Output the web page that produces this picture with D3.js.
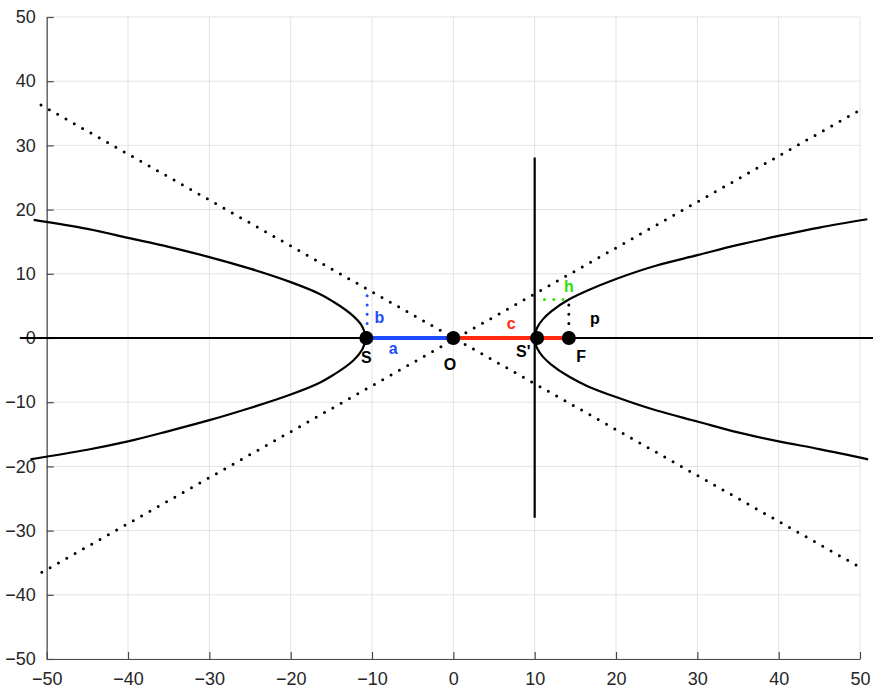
<!DOCTYPE html>
<html>
<head>
<meta charset="utf-8">
<script src="https://cdn.jsdelivr.net/npm/d3@7"></script>
<style>
  body { margin: 0; background: #fff; }
  svg text { font-family: "Liberation Sans", Arial, Helvetica, sans-serif; }
</style>
</head>
<body>
<div id="chart"></div>
<script>
// Tick values on both axes
const xTicks = [-50, -40, -30, -20, -10, 0, 10, 20, 30, 40, 50];
const yTicks = [-50, -40, -30, -20, -10, 0, 10, 20, 30, 40, 50];

// Right branch of the curve (bottom to top)
const rightBranch = [
  [51.0, -18.9], [45, -17.3], [40, -16.1], [35, -14.7], [30, -13.0], [25, -11.3],
  [20, -9.2], [16.5, -7.5], [14.2, -6.0], [12.0, -4.1], [11.0, -2.9], [10.3, -1.6],
  [10.0, 0],
  [10.3, 1.6], [11.0, 2.9], [12.0, 4.1], [14.2, 6.0], [16.5, 7.4], [20, 9.2],
  [25, 11.3], [30, 12.9], [35, 14.5], [40, 15.9], [45, 17.2], [50.9, 18.5]
];

// Left branch of the curve (bottom to top)
const leftBranch = [
  [-52.0, -18.9], [-45, -17.4], [-40, -16.1], [-35, -14.5], [-30, -12.8], [-25, -10.9],
  [-20, -8.8], [-16.5, -7.0], [-14.7, -5.7], [-12.3, -3.5], [-11.2, -1.8],
  [-10.8, 0],
  [-11.2, 1.8], [-12.3, 3.4], [-14.7, 5.6], [-16.5, 6.9], [-20, 8.7], [-25, 10.8],
  [-30, 12.6], [-35, 14.2], [-40, 15.6], [-45, 17.0], [-51.6, 18.4]
];

// Asymptote end points (dotted)
const asymptotes = [
  [[-50.7, 36.3], [50.4, -36.0]],
  [[-50.6, -36.5], [50.4, 35.8]]
];

// Key points: S, O, S', F
const points = [[-10.7, 0], [0, 0], [10.3, 0], [14.2, 0]];

// Solid and dotted segments
const axisLine = [[-53.3, 0], [54, 0]];
const directrix = [[10.0, -28.0], [10.0, 28.1]];
const segA = [[-10.7, 0], [0, 0]];
const segC = [[0, 0], [14.2, 0]];
const segB = [[-10.6, 0.8], [-10.6, 7.4]];
const segP = [[14.2, 0.8], [14.2, 6.0]];
const segH = [[11.2, 6.0], [13.6, 6.0]];

// Text annotations [x, y, label, colour]
const labels = [
  [-10.7, -3.1, "S", "#000"],
  [-7.4, -1.7, "a", "#1f4cff"],
  [-0.4, -4.1, "O", "#000"],
  [7.1, 2.2, "c", "#ff2a10"],
  [8.6, -2.1, "S'", "#000"],
  [15.7, -2.9, "F", "#000"],
  [17.4, 3.0, "p", "#000"],
  [14.2, 8.0, "h", "#2de000"],
  [-9.1, 3.2, "b", "#1f4cff"]
];

const width = 873, height = 689;
const margin = {top: 17, right: 13, bottom: 30, left: 46.7};

const svg = d3.select("#chart").append("svg")
  .attr("width", width)
  .attr("height", height);

const x = d3.scaleLinear().domain([-50, 50]).range([margin.left, width - margin.right]);
const y = d3.scaleLinear().domain([-50, 50]).range([height - margin.bottom, margin.top]);

// grid
svg.append("g").selectAll("line")
  .data(xTicks).enter().append("line")
  .attr("x1", d => x(d)).attr("x2", d => x(d))
  .attr("y1", y(-50)).attr("y2", y(50))
  .attr("stroke", "#e3e3e3").attr("stroke-width", 1);

svg.append("g").selectAll("line")
  .data(yTicks).enter().append("line")
  .attr("y1", d => y(d)).attr("y2", d => y(d))
  .attr("x1", x(-50)).attr("x2", x(50))
  .attr("stroke", "#e3e3e3").attr("stroke-width", 1);

// axes
const xAxis = svg.append("g")
  .attr("transform", `translate(0,${y(-50)})`)
  .call(d3.axisBottom(x).tickValues(xTicks).tickSizeInner(-7).tickSizeOuter(0).tickPadding(12));
const yAxis = svg.append("g")
  .attr("transform", `translate(${x(-50)},0)`)
  .call(d3.axisLeft(y).tickValues(yTicks).tickSizeInner(-7).tickSizeOuter(0).tickPadding(11));

[xAxis, yAxis].forEach(a => {
  a.select(".domain").attr("stroke", "#4a4a4a").attr("stroke-width", 1.2);
  a.selectAll(".tick line").attr("stroke", "#4a4a4a").attr("stroke-width", 1.2);
  a.selectAll(".tick text")
    .attr("fill", "#262626")
    .attr("font-size", "18px")
    .attr("font-family", "'Liberation Sans', Arial, sans-serif");
});
xAxis.selectAll(".tick text").attr("dy", "0.8em");

const line = d3.line().x(d => x(d[0])).y(d => y(d[1]));

// asymptotes
svg.append("g").selectAll("path")
  .data(asymptotes).enter().append("path")
  .attr("d", line)
  .attr("fill", "none")
  .attr("stroke", "#000")
  .attr("stroke-width", 3)
  .attr("stroke-linecap", "round")
  .attr("stroke-dasharray", "0 9.55");

// curve branches (x is a function of y along each branch)
const curve = d3.line().x(d => x(d[0])).y(d => y(d[1])).curve(d3.curveMonotoneY);
[leftBranch, rightBranch].forEach(b => {
  svg.append("path")
    .datum(b)
    .attr("d", curve)
    .attr("fill", "none")
    .attr("stroke", "#000")
    .attr("stroke-width", 2.2);
});

// x axis line and vertical line
svg.append("path").datum(axisLine).attr("d", line)
  .attr("stroke", "#000").attr("stroke-width", 2.2).attr("fill", "none");
svg.append("path").datum(directrix).attr("d", line)
  .attr("stroke", "#000").attr("stroke-width", 2.2).attr("fill", "none");

// a and c segments
svg.append("path").datum(segA).attr("d", line)
  .attr("stroke", "#1f4cff").attr("stroke-width", 4).attr("fill", "none");
svg.append("path").datum(segC).attr("d", line)
  .attr("stroke", "#ff2a10").attr("stroke-width", 4).attr("fill", "none");

// dotted b, p, h
const dotted = [[segB, "#1f4cff"], [segP, "#000"], [segH, "#2de000"]];
dotted.forEach(([seg, col]) => {
  svg.append("path").datum(seg).attr("d", line)
    .attr("fill", "none")
    .attr("stroke", col)
    .attr("stroke-width", 3)
    .attr("stroke-linecap", "round")
    .attr("stroke-dasharray", "0 9.3");
});

// markers
svg.append("g").selectAll("circle")
  .data(points).enter().append("circle")
  .attr("cx", d => x(d[0]))
  .attr("cy", d => y(d[1]))
  .attr("r", 7)
  .attr("fill", "#000");

// labels
svg.append("g").selectAll("text")
  .data(labels).enter().append("text")
  .attr("x", d => x(d[0]))
  .attr("y", d => y(d[1]))
  .attr("text-anchor", "middle")
  .attr("dominant-baseline", "central")
  .attr("font-size", "16px")
  .attr("font-weight", "bold")
  .attr("fill", d => d[3])
  .text(d => d[2]);
</script>
</body>
</html>
